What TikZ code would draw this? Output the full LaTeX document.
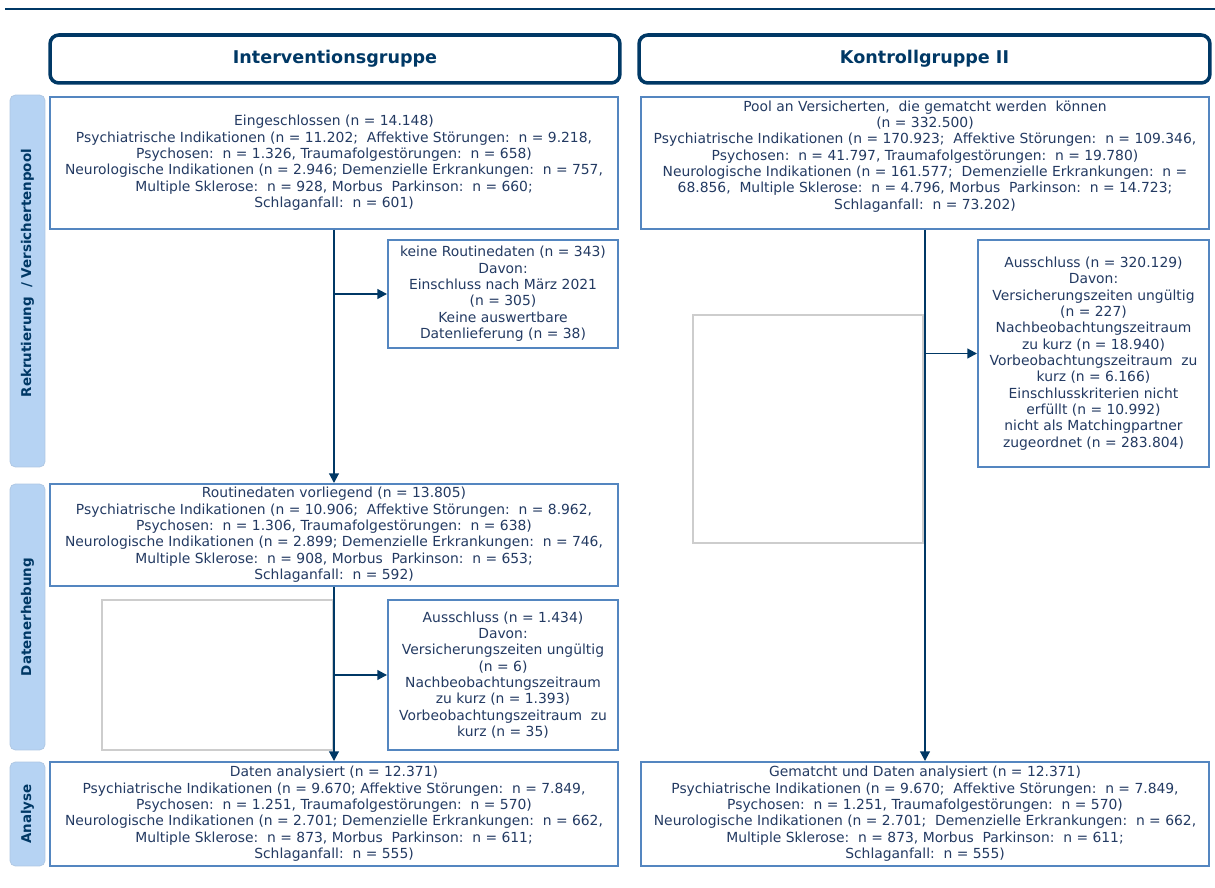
\documentclass[tikz,border=0pt]{standalone}
\usepackage{fontspec}
\setmainfont{DejaVu Sans}
\usetikzlibrary{arrows.meta}
\definecolor{navy}{RGB}{0,56,101}
\definecolor{boxblue}{RGB}{84,134,192}
\definecolor{txt}{RGB}{35,58,98}
\definecolor{barfill}{RGB}{182,211,243}
\definecolor{lightgray}{RGB}{205,205,205}
\begin{document}
\begin{tikzpicture}[x=0.02cm,y=-0.02cm,
  box/.style={draw=boxblue,line width=1.1pt,align=center,text=txt,inner sep=0pt,
    font=\fontsize{7.9}{9.3}\selectfont},
  header/.style={draw=navy,line width=2pt,rounded corners=5pt,text=navy,
    font=\fontsize{10}{12}\selectfont\bfseries,minimum height=0.96cm},
  sidebar/.style={fill=barfill,draw=barfill!85!gray,line width=0.4pt,rounded corners=3pt,
    minimum width=0.7cm,text=navy,font=\fontsize{7.65}{9.3}\selectfont\bfseries},
  emptybox/.style={draw=lightgray,line width=1pt,inner sep=0pt},
  arr/.style={draw=navy,line width=1.1pt,-{Triangle[length=5.5pt,width=5.5pt]}},
  conn/.style={draw=navy,line width=1.1pt}]
\useasboundingbox (0,0) rectangle (1215,888);
% top rule
\coordinate (ruleL) at (5,9);
\coordinate (ruleR) at (1215,9);
\draw[navy,line width=1.2pt] (ruleL) -- (ruleR);
% headers
\node[header,minimum width=11.4cm] (hL) at (335,59) {Interventionsgruppe};
\node[header,minimum width=11.42cm] (hR) at (924.5,59) {Kontrollgruppe II};
% side bars
\node[sidebar,minimum height=7.44cm] (s1) at (27.5,281) {\rotatebox{90}{\hspace*{9pt}Rekrutierung\ \ / Versichertenpool}};
\node[sidebar,minimum height=5.32cm] (s2) at (27.5,617) {\rotatebox{90}{Datenerhebung}};
\node[sidebar,minimum height=2.08cm] (s3) at (27.5,814) {\rotatebox{90}{Analyse}};
% empty boxes
\node[emptybox,minimum width=4.6cm,minimum height=4.56cm] (gR) at (808,429) {};
\node[emptybox,minimum width=4.62cm,minimum height=3.0cm] (gL) at (217.5,675) {};
% left column
\node[box,minimum width=11.36cm,minimum height=2.64cm] (b1) at (334,163) {%
Eingeschlossen (n = 14.148)\\
Psychiatrische Indikationen (n = 11.202;\ \ Affektive Störungen:\ \ n = 9.218,\\
Psychosen:\ \ n = 1.326, Traumafolgestörungen:\ \ n = 658)\\
Neurologische Indikationen (n = 2.946; Demenzielle Erkrankungen:\ \ n = 757,\\
Multiple Sklerose:\ \ n = 928, Morbus\ \ Parkinson:\ \ n = 660;\\
Schlaganfall:\ \ n = 601)};
\node[box,minimum width=4.6cm,minimum height=2.16cm] (keine) at (503,294) {%
keine Routinedaten (n = 343)\\
Davon:\\
Einschluss nach März 2021\\
(n = 305)\\
Keine auswertbare\\
Datenlieferung (n = 38)};
\node[box,minimum width=11.36cm,minimum height=2.04cm] (routine) at (334,535) {%
Routinedaten vorliegend (n = 13.805)\\
Psychiatrische Indikationen (n = 10.906;\ \ Affektive Störungen:\ \ n = 8.962,\\
Psychosen:\ \ n = 1.306, Traumafolgestörungen:\ \ n = 638)\\
Neurologische Indikationen (n = 2.899; Demenzielle Erkrankungen:\ \ n = 746,\\
Multiple Sklerose:\ \ n = 908, Morbus\ \ Parkinson:\ \ n = 653;\\
Schlaganfall:\ \ n = 592)};
\node[box,minimum width=4.6cm,minimum height=3.0cm] (ausL) at (503,675) {%
Ausschluss (n = 1.434)\\
Davon:\\
Versicherungszeiten ungültig\\
(n = 6)\\
Nachbeobachtungszeitraum\\
zu kurz (n = 1.393)\\
Vorbeobachtungszeitraum\ \ zu\\
kurz (n = 35)};
\node[box,minimum width=11.36cm,minimum height=2.08cm] (datenA) at (334,814) {%
Daten analysiert (n = 12.371)\\
Psychiatrische Indikationen (n = 9.670; Affektive Störungen:\ \ n = 7.849,\\
Psychosen:\ \ n = 1.251, Traumafolgestörungen:\ \ n = 570)\\
Neurologische Indikationen (n = 2.701; Demenzielle Erkrankungen:\ \ n = 662,\\
Multiple Sklerose:\ \ n = 873, Morbus\ \ Parkinson:\ \ n = 611;\\
Schlaganfall:\ \ n = 555)};
% right column
\node[box,minimum width=11.36cm,minimum height=2.64cm] (pool) at (925,163) {%
Pool an Versicherten,\ \ die gematcht werden\ \ können\\
(n = 332.500)\\
Psychiatrische Indikationen (n = 170.923;\ \ Affektive Störungen:\ \ n = 109.346,\\
Psychosen:\ \ n = 41.797, Traumafolgestörungen:\ \ n = 19.780)\\
Neurologische Indikationen (n = 161.577;\ \ Demenzielle Erkrankungen:\ \ n =\\
68.856,\ \ Multiple Sklerose:\ \ n = 4.796, Morbus\ \ Parkinson:\ \ n = 14.723;\\
Schlaganfall:\ \ n = 73.202)\\ ~};
\node[box,minimum width=4.62cm,minimum height=4.54cm] (ausR) at (1093.5,353.5) {%
Ausschluss (n = 320.129)\\
Davon:\\
Versicherungszeiten ungültig\\
(n = 227)\\
Nachbeobachtungszeitraum\\
zu kurz (n = 18.940)\\
Vorbeobachtungszeitraum\ \ zu\\
kurz (n = 6.166)\\
Einschlusskriterien nicht\\
erfüllt (n = 10.992)\\
nicht als Matchingpartner\\
zugeordnet (n = 283.804)};
\node[box,minimum width=11.36cm,minimum height=2.08cm] (gem) at (925,814) {%
Gematcht und Daten analysiert (n = 12.371)\\
Psychiatrische Indikationen (n = 9.670;\ \ Affektive Störungen:\ \ n = 7.849,\\
Psychosen:\ \ n = 1.251, Traumafolgestörungen:\ \ n = 570)\\
Neurologische Indikationen (n = 2.701;\ \ Demenzielle Erkrankungen:\ \ n = 662,\\
Multiple Sklerose:\ \ n = 873, Morbus\ \ Parkinson:\ \ n = 611;\\
Schlaganfall:\ \ n = 555)};
% connectors
\draw[arr] (b1.south) -- (routine.north);
\draw[arr] (b1.south |- keine.west) -- (keine.west);
\draw[arr] (routine.south) -- (datenA.north);
\draw[arr] (routine.south |- ausL.west) -- (ausL.west);
\draw[arr] (pool.south) -- (gem.north);
\draw[arr] (pool.south |- ausR.west) -- (ausR.west);
\end{tikzpicture}
\end{document}
